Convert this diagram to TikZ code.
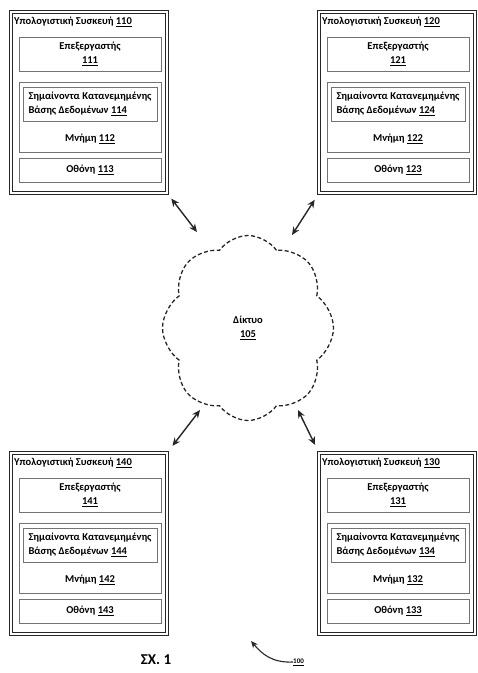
\documentclass[tikz,border=0pt]{standalone}
\usepackage{fontspec}
\setmainfont{Carlito}
\usetikzlibrary{arrows.meta,shapes.symbols}

\tikzset{
  txt/.style={font=\fontsize{10.5}{14}\selectfont\bfseries, inner sep=0pt},
  dev/.style={draw=black!85, double, double distance=1.4pt, line width=1pt, minimum width=156, minimum height=181, inner sep=0pt, outer sep=0pt},
  part/.style={draw=black!55, line width=0.8pt, minimum width=142, inner sep=0pt, outer sep=0pt, txt},
  arr/.style={{Stealth[length=8pt,width=7pt]}-{Stealth[length=8pt,width=7pt]}, line width=1.4pt, black!85},
}

\begin{document}
\begin{tikzpicture}[x=1pt,y=-1pt]
\useasboundingbox (0,0) rectangle (478,673);

\foreach \x/\y/\n in {11/12/110, 319/12/120, 11/453/140, 319/453/130}{
  \pgfmathtruncatemacro\np{\n+1}
  \pgfmathtruncatemacro\nm{\n+2}
  \pgfmathtruncatemacro\ns{\n+3}
  \pgfmathtruncatemacro\nb{\n+4}
  \node[dev, anchor=north west] (d\n) at (\x,\y) {};
  \node[txt, anchor=west] (t\n) at (\x+3,\y+10) {Υπολογιστική Συσκευή \underline{\n}};
  \node[part, anchor=north west, minimum height=34, align=center] (p\n) at (\x+8,\y+25) {Επεξεργαστής\\\underline{\np}};
  \node[part, anchor=north west, minimum height=70] (m\n) at (\x+8,\y+70) {};
  \node[part, anchor=north west, minimum width=134, minimum height=34, align=left] (b\n) at (\x+12,\y+75) {Σημαίνοντα Κατανεμημένης\\Βάσης Δεδομένων \underline{\nb}};
  \node[txt] (l\n) at (\x+79,\y+127) {Μνήμη \underline{\nm}};
  \node[part, anchor=north west, minimum height=24] (s\n) at (\x+8,\y+146) {Οθόνη \underline{\ns}};
}

\node[cloud, cloud puffs=8, cloud puff arc=110, aspect=0.9, draw=black!85, line width=1.3pt, dash pattern=on 4pt off 2.5pt, minimum width=171, minimum height=185, txt, align=center] (net) at (248,328) {Δίκτυο\\\underline{105}};

\coordinate (n1) at (197,232);
\coordinate (n2) at (292,235);
\coordinate (n3) at (200,410);
\coordinate (n4) at (298,410);
\draw[arr, shorten <=7pt] (d110.south east) -- (n1);
\draw[arr, shorten <=8pt] (d120.south west) -- (n2);
\draw[arr, shorten <=9pt] (d140.north east) -- (n3);
\draw[arr, shorten <=9pt] (d130.north west) -- (n4);

\node[font=\fontsize{15}{17}\selectfont\bfseries] (fig) at (156,660) {ΣΧ. 1};
\node[txt, font=\fontsize{7}{8}\selectfont\bfseries, anchor=west] (ref) at (293,662) {\underline{100}};
\coordinate (tip) at (251,641);
\draw[-{Stealth[length=7pt,width=6pt]}, line width=1.1pt, black!85] (ref.west) .. controls (272,663) and (262,654) .. (tip);
\end{tikzpicture}
\end{document}
